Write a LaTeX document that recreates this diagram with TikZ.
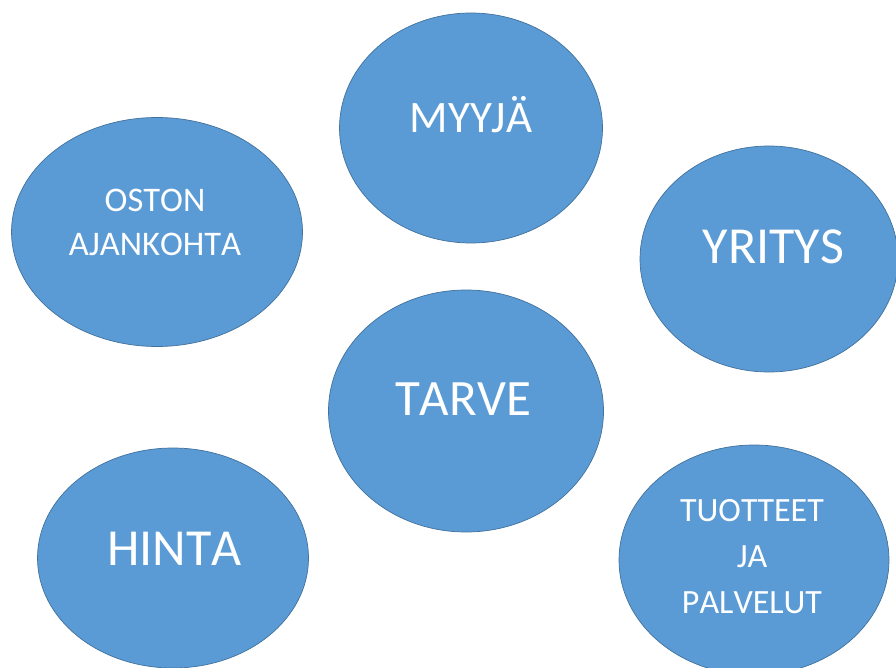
\documentclass[tikz,border=0pt]{standalone}
\usepackage{fontspec}
\setmainfont{Carlito}[Kerning=Off]
\usetikzlibrary{shapes.geometric}
\definecolor{bubble-fill}{HTML}{5B9BD5}
\definecolor{bubble-line}{HTML}{41719C}
\tikzset{
    bubble/.style = {ellipse, draw=bubble-line, fill=bubble-fill, line width=0.7pt, inner sep=0pt},
    bubble-text/.style = {text=white, align=center, inner sep=0pt, anchor=base},
}
\begin{document}
\begin{tikzpicture}[x=1pt,y=-1pt]
\useasboundingbox (0,0) rectangle (896,668);
\node[bubble, minimum width=263pt, minimum height=230pt] (myyja) at (471,128) {};
\node[bubble-text, font=\fontsize{45}{54}\selectfont] (myyja-text) at ([yshift=-5pt]myyja.center) {MYYJÄ};
\node[bubble, minimum width=291pt, minimum height=229pt] (oston) at (157,232) {};
\node[bubble-text, font=\fontsize{34.5}{43.3}\selectfont] (oston-text) at ([xshift=-2pt,yshift=-23pt]oston.center) {OSTON\\AJANKOHTA};
\node[bubble, minimum width=258pt, minimum height=226pt] (yritys) at (769,259) {};
\node[bubble-text, font=\fontsize{52}{60}\selectfont] (yritys-text) at ([xshift=4.5pt,yshift=-4pt]yritys.center) {YRITYS};
\node[bubble, minimum width=275pt, minimum height=242pt] (tarve) at (466,411) {};
\node[bubble-text, font=\fontsize{51}{60}\selectfont] (tarve-text) at ([xshift=-3pt,yshift=-4pt]tarve.center) {TARVE};
\node[bubble, minimum width=271pt, minimum height=220pt] (hinta) at (173,558) {};
\node[bubble-text, font=\fontsize{52}{60}\selectfont] (hinta-text) at ([xshift=1.5pt,yshift=-7pt]hinta.center) {HINTA};
\node[bubble, minimum width=270pt, minimum height=230pt] (tuotteet) at (754,560) {};
\node[bubble-text, font=\fontsize{34}{45.8}\selectfont] (tuotteet-text) at ([xshift=-2pt,yshift=-53pt]tuotteet.center) {TUOTTEET\\JA\\PALVELUT};
\end{tikzpicture}
\end{document}
